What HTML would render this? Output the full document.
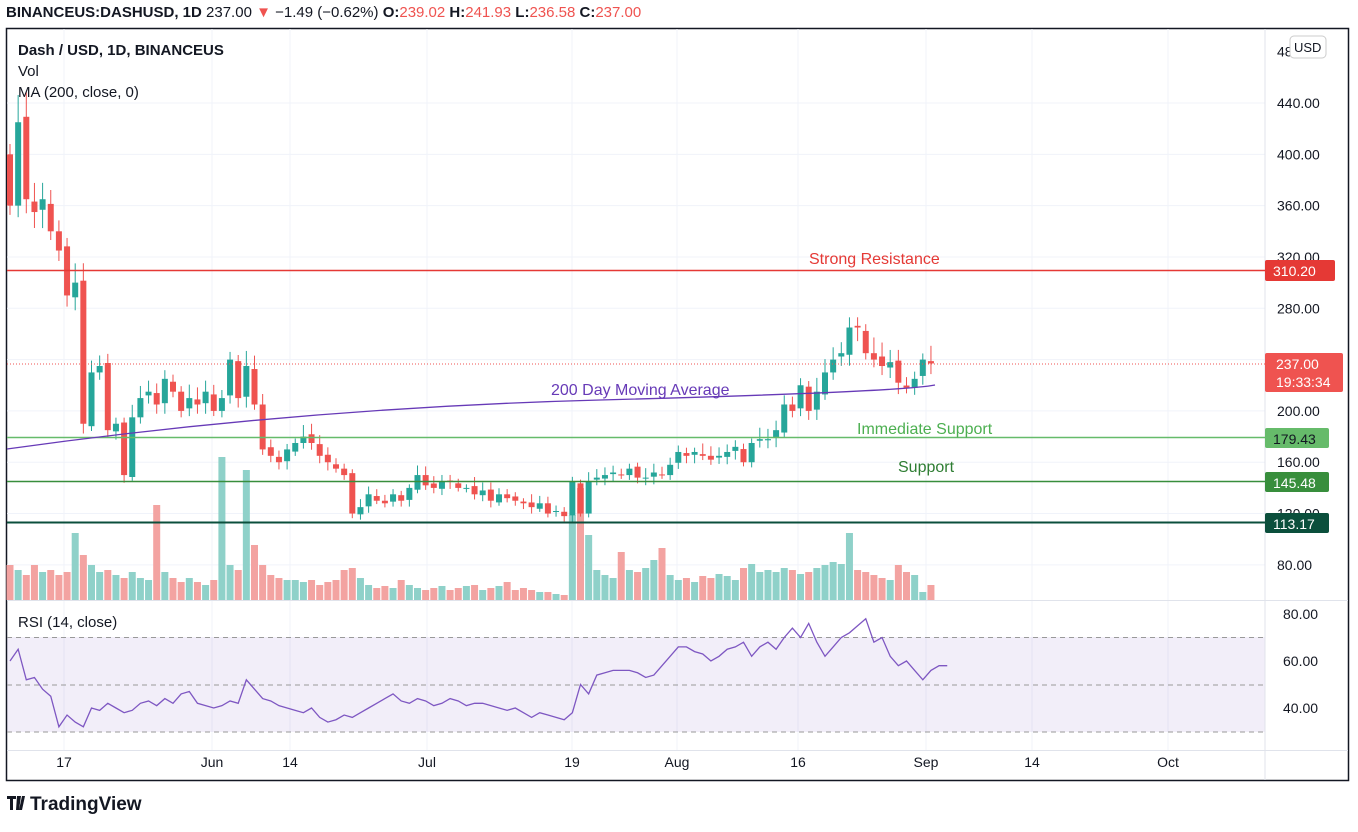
<!DOCTYPE html><html><head><meta charset="utf-8"><style>
body{margin:0;background:#fff;font-family:"Liberation Sans",sans-serif;width:1358px;height:827px;overflow:hidden}
svg text{font-family:"Liberation Sans",sans-serif}
</style></head><body>
<svg id="s" width="1358" height="827" xmlns="http://www.w3.org/2000/svg">
<text x="6" y="17" font-size="15" font-weight="bold" fill="#131722">BINANCEUS:DASHUSD, 1D <tspan font-weight="normal">237.00</tspan><tspan fill="#ef5350" font-weight="normal"> ▼ </tspan><tspan font-weight="normal">−1.49 (−0.62%) </tspan>O:<tspan fill="#ef5350" font-weight="normal">239.02 </tspan>H:<tspan fill="#ef5350" font-weight="normal">241.93 </tspan>L:<tspan fill="#ef5350" font-weight="normal">236.58 </tspan>C:<tspan fill="#ef5350" font-weight="normal">237.00</tspan></text>
<rect x="6.5" y="28.5" width="1342" height="752" fill="none" stroke="#131722" stroke-width="1.5"/>
<g id="grid" stroke="#f0f3fa" stroke-width="1"></g>
<rect x="7" y="637" width="1258" height="95" fill="#7e57c2" fill-opacity="0.1"/>
<line x1="7" x2="1265" y1="637.5" y2="637.5" stroke="#999" stroke-dasharray="5,4"/>
<line x1="7" x2="1265" y1="685" y2="685" stroke="#999" stroke-dasharray="5,4"/>
<line x1="7" x2="1265" y1="732" y2="732" stroke="#999" stroke-dasharray="5,4"/>
<line x1="1265" x2="1265" y1="29" y2="780" stroke="#e0e3eb"/>
<line x1="7" x2="1348" y1="600.5" y2="600.5" stroke="#e0e3eb"/>
<line x1="7" x2="1348" y1="750.5" y2="750.5" stroke="#e0e3eb"/>
<g id="vol"></g><g id="c"></g>
<line x1="7" x2="1265" y1="364" y2="364" stroke="#ef5350" stroke-dasharray="1,2"/>
<line x1="7" x2="1265" y1="270.5" y2="270.5" stroke="#e53935" stroke-width="1.5"/>
<line x1="7" x2="1265" y1="437.5" y2="437.5" stroke="#66bb6a" stroke-width="1.5"/>
<line x1="7" x2="1265" y1="481.5" y2="481.5" stroke="#388e3c" stroke-width="1.5"/>
<line x1="7" x2="1265" y1="522.5" y2="522.5" stroke="#0b4f3c" stroke-width="2"/>
<path d="M7,449 Q300,408 600,400 T935,385" fill="none" stroke="#673ab7" stroke-width="1.3"/>
<polyline id="rsi" fill="none" stroke="#7e57c2" stroke-width="1.3"/>
<text x="809" y="264" font-size="16" fill="#e53935">Strong Resistance</text>
<text x="551" y="395" font-size="16" fill="#673ab7">200 Day Moving Average</text>
<text x="857" y="434" font-size="16" fill="#4caf50">Immediate Support</text>
<text x="898" y="472" font-size="16" fill="#2e7d32">Support</text>
<text x="18" y="55" font-size="15" font-weight="bold" fill="#131722">Dash / USD, 1D, BINANCEUS</text>
<text x="18" y="76" font-size="15" fill="#131722">Vol</text>
<text x="18" y="97" font-size="15" fill="#131722">MA (200, close, 0)</text>
<text x="18" y="627" font-size="15" fill="#131722">RSI (14, close)</text>
<g font-size="14" fill="#131722" id="ax"></g>
<rect x="1290" y="36" width="36" height="22" rx="4" fill="#fff" stroke="#ccc"/>
<text x="1294" y="52" font-size="13" fill="#131722">USD</text>
<rect x="1265" y="260" width="70" height="21" rx="2" fill="#e53935"/><text x="1273" y="276" font-size="14" fill="#fff">310.20</text>
<rect x="1265" y="353" width="78" height="39" rx="2" fill="#ef5350"/><text x="1276" y="369" font-size="14" fill="#fff">237.00</text><text x="1276" y="387" font-size="14" fill="#fff">19:33:34</text>
<rect x="1265" y="428" width="64" height="20" rx="2" fill="#66bb6a"/><text x="1273" y="444" font-size="14" fill="#131722">179.43</text>
<rect x="1265" y="472" width="64" height="20" rx="2" fill="#388e3c"/><text x="1273" y="488" font-size="14" fill="#fff">145.48</text>
<rect x="1265" y="513" width="64" height="20" rx="2" fill="#0b4f3c"/><text x="1273" y="529" font-size="14" fill="#fff">113.17</text>
<text x="30" y="810" font-size="19" font-weight="bold" fill="#131722">TradingView</text>
<path d="M7,796h9v3h-3v11h-3v-11h-3z M17,796h4l-2,14h-3z M22,796h3l-3,14h-3z" fill="#131722"/>
</svg>
<script>
const Y=p=>103+(440-p)*1.283, R=v=>614+(80-v)*2.35;
const ns="http://www.w3.org/2000/svg";
function el(g,t,a){const e=document.createElementNS(ns,t);for(const k in a)e.setAttribute(k,a[k]);document.getElementById(g).appendChild(e);return e;}
[440,400,360,320,280,240,200,160,120,80].forEach(p=>el('grid','line',{x1:7,x2:1265,y1:Y(p),y2:Y(p)}));
[64,212,290,427,572,677,798,926,1032,1168].forEach(x=>el('grid','line',{x1:x,x2:x,y1:29,y2:750}));
[[440,'440.00'],[400,'400.00'],[360,'360.00'],[320,'320.00'],[280,'280.00'],[200,'200.00'],[160,'160.00'],[120,'120.00'],[80,'80.00'],[480,'480.00']].forEach(([p,t])=>{const e=el('ax','text',{x:1277,y:Y(p)+5});e.textContent=t;});
[[80,'80.00'],[60,'60.00'],[40,'40.00']].forEach(([v,t])=>{const e=el('ax','text',{x:1283,y:R(v)+5});e.textContent=t;});
[[64,'17'],[212,'Jun'],[290,'14'],[427,'Jul'],[572,'19'],[677,'Aug'],[798,'16'],[926,'Sep'],[1032,'14'],[1168,'Oct']].forEach(([x,t])=>{const e=el('ax','text',{x:x,y:767,'text-anchor':'middle'});e.textContent=t;});
const C=[360,425,365,355,365,340,325,290,300,190,230,235,185,190,150,195,210,215,205,225,215,200,210,205,215,200,210,240,210,235,205,170,165,160,170,175,180,175,165,160,155,150,120,125,135,130,128,135,130,140,150,142,140,145,145,140,140,135,138,130,135,132,130,128,125,128,120,122,118,145,120,145,148,150,152,150,155,148,148,152,150,158,168,165,168,165,162,165,168,172,160,175,178,178,185,205,200,220,200,215,230,240,245,265,265,245,240,235,238,222,218,225,240,237];
const V=[35,30,25,35,28,30,25,28,67,45,35,28,30,25,22,28,22,20,95,28,22,18,22,18,15,20,143,35,30,130,55,35,25,22,20,20,18,20,15,18,20,30,32,22,15,12,14,12,20,15,12,10,12,14,10,12,14,15,10,12,14,18,10,12,10,8,8,6,5,85,112,65,30,25,22,48,30,28,32,40,52,25,20,22,18,24,22,26,24,20,32,36,28,30,28,32,30,26,28,32,35,38,36,67,30,28,25,22,20,35,28,25,8];
const RS=[60,65,52,53,48,45,32,37,34,32,40,39,42,40,38,39,42,43,41,44,42,46,47,42,41,40,41,43,42,52,48,44,43,41,40,39,38,40,36,34,35,37,36,38,40,42,44,46,43,42,44,43,41,42,44,43,41,42,42,41,40,39,40,38,36,38,37,36,35,38,50,46,54,55,56,56,56,55,53,54,58,62,66,66,64,63,60,62,65,66,68,62,66,68,65,70,74,70,76,68,62,66,70,72,75,78,68,70,62,58,60,56,52,56,58,58];
const st=8.15, x0=10;
C.forEach((c,i)=>{const o=i==0?400:C[i-1]*(0.99+((i*7)%5)/200); const x=x0+i*st;
 const up=c>=o, col=up?'#26a69a':'#ef5350';
 const hi=Math.max(o,c)*(1.02+((i*13)%7)/200), lo=Math.min(o,c)*(0.98-((i*11)%5)/200);
 el('c','line',{x1:x,x2:x,y1:Y(hi),y2:Y(lo),stroke:col});
 const t=Y(Math.max(o,c)),b=Y(Math.min(o,c));
 el('c','rect',{x:x-3,y:t,width:6,height:Math.max(1,b-t),fill:col});
 const v=V[i]||15;
 el('vol','rect',{x:x-3.5,y:600-v,width:7,height:v,fill:up?'#8fd1c9':'#f3a3a1'});
});
document.getElementById('rsi').setAttribute('points',RS.map((v,i)=>(x0+i*st)+','+R(v)).join(' '));
</script>
</body></html>
